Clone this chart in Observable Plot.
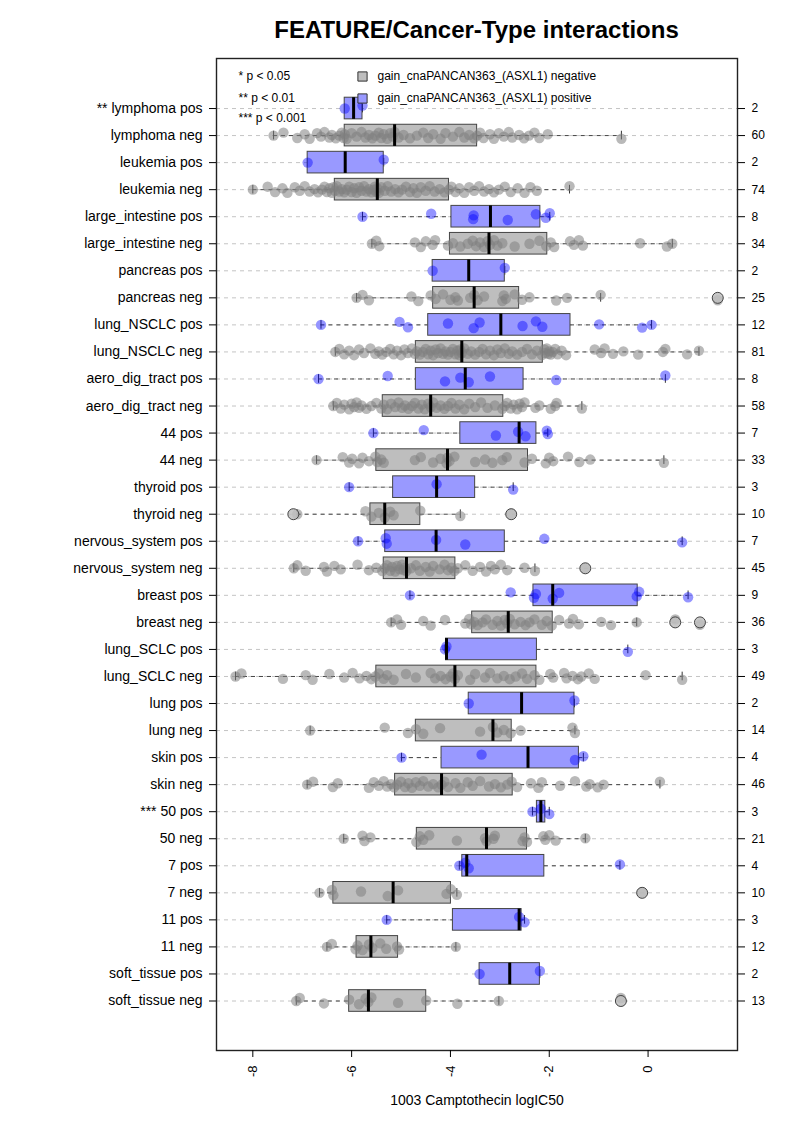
<!DOCTYPE html>
<html><head><meta charset="utf-8">
<script src="https://cdn.jsdelivr.net/npm/d3@7"></script>
<script src="https://cdn.jsdelivr.net/npm/@observablehq/plot@0.6"></script>
<style>
body{margin:0;background:#fff;font-family:"Liberation Sans",Arial,sans-serif;}
#title{height:50px;box-sizing:border-box;padding-top:16px;padding-left:216px;width:737px;text-align:center;font-weight:bold;font-size:24px;line-height:28px;color:#000;}
#chart svg{display:block;}
</style></head>
<body>
<div id="title">FEATURE/Cancer-Type interactions</div>
<div id="chart"></div>
<script>
const labels = ["** lymphoma pos","lymphoma neg","leukemia pos","leukemia neg","large_intestine pos","large_intestine neg","pancreas pos","pancreas neg","lung_NSCLC pos","lung_NSCLC neg","aero_dig_tract pos","aero_dig_tract neg","44 pos","44 neg","thyroid pos","thyroid neg","nervous_system pos","nervous_system neg","breast pos","breast neg","lung_SCLC pos","lung_SCLC neg","lung pos","lung neg","skin pos","skin neg","*** 50 pos","50 neg","7 pos","7 neg","11 pos","11 neg","soft_tissue pos","soft_tissue neg"];
const counts = [2,60,2,74,8,34,2,25,12,81,8,58,7,33,3,10,7,45,9,36,3,49,2,14,4,46,3,21,4,10,3,12,2,13];
const q1  = [-6.14,-6.14,-6.89,-6.34,-3.98,-4.01,-4.36,-4.35,-4.45,-4.70,-4.70,-5.37,-3.80,-5.50,-5.16,-5.62,-5.32,-5.35,-2.32,-3.56,-4.09,-5.50,-3.63,-4.70,-4.18,-5.12,-2.25,-4.68,-3.76,-6.37,-3.95,-5.90,-3.41,-6.05];
const med = [-5.96,-5.13,-6.13,-5.48,-3.19,-3.22,-3.63,-3.52,-2.98,-3.77,-3.70,-4.40,-2.61,-4.06,-4.28,-5.33,-4.29,-4.89,-1.93,-2.83,-4.08,-3.91,-2.56,-3.14,-2.43,-4.18,-2.17,-3.27,-3.67,-5.16,-2.61,-5.61,-2.80,-5.66];
const q3  = [-5.78,-3.46,-5.35,-4.03,-2.18,-2.04,-2.90,-2.61,-1.57,-2.13,-2.52,-2.93,-2.26,-2.43,-3.50,-4.61,-2.90,-3.90,-0.21,-1.93,-2.25,-2.26,-1.49,-2.76,-1.40,-2.74,-2.08,-2.45,-2.10,-3.99,-2.56,-5.06,-2.19,-4.49];
const wlo = [-6.14,-7.58,-6.89,-8.00,-5.78,-5.59,-4.36,-5.90,-6.62,-6.33,-6.67,-6.37,-5.56,-6.71,-6.05,-7.10,-5.87,-7.17,-4.82,-5.20,-4.11,-8.35,-3.63,-6.84,-4.99,-6.90,-2.34,-6.16,-3.82,-6.65,-5.29,-6.50,-3.41,-7.12];
const whi = [-5.78,-0.54,-5.35,-1.59,-1.99,0.49,-2.90,-0.96,0.07,1.03,0.35,-1.34,-2.03,0.32,-2.73,-3.80,0.69,-2.29,0.81,-0.23,-0.41,0.69,-1.49,-1.48,-1.31,0.24,-2.00,-1.27,-0.57,-3.87,-2.50,-3.89,-2.19,-3.02];
const outliers = [[],[],[],[],[],[],[],[1.41],[],[],[],[],[],[],[],[-7.18,-2.77],[],[-1.27],[],[0.55,1.05],[],[],[],[],[],[],[],[],[],[-0.12],[],[],[],[-0.55]];
const values = [
 [-6.14,-5.78],
 [-7.58,-7.38,-7.10,-6.95,-6.85,-6.70,-6.62,-6.55,-6.45,-6.40,-6.32,-6.25,-6.20,-6.16,-6.14,
  -6.10,-6.00,-5.90,-5.80,-5.72,-5.65,-5.58,-5.52,-5.45,-5.40,-5.35,-5.28,-5.22,-5.17,-5.13,
  -5.05,-4.95,-4.82,-4.68,-4.55,-4.45,-4.35,-4.20,-4.10,-3.95,-3.82,-3.72,-3.62,-3.52,-3.46,
  -3.40,-3.33,-3.20,-3.12,-3.02,-2.92,-2.82,-2.75,-2.61,-2.51,-2.41,-2.30,-2.20,-2.03,-0.54],
 [-6.89,-5.35],
 [-8.00,-7.70,-7.55,-7.40,-7.30,-7.15,-7.05,-6.95,-6.85,-6.75,-6.68,-6.60,-6.55,-6.50,-6.45,-6.40,-6.37,-6.34,
  -6.30,-6.25,-6.20,-6.15,-6.10,-6.05,-6.00,-5.95,-5.90,-5.85,-5.80,-5.75,-5.70,-5.65,-5.60,-5.56,-5.53,-5.50,-5.48,
  -5.45,-5.40,-5.33,-5.27,-5.20,-5.12,-5.05,-4.98,-4.90,-4.82,-4.75,-4.68,-4.60,-4.50,-4.42,-4.32,-4.22,-4.12,-4.03,
  -3.98,-3.90,-3.82,-3.72,-3.62,-3.52,-3.42,-3.32,-3.22,-3.12,-3.02,-2.90,-2.78,-2.64,-2.50,-2.38,-2.25,-1.59],
 [-5.78,-4.39,-3.54,-3.53,-2.84,-2.27,-2.07,-1.99],
 [-5.59,-5.50,-5.44,-4.72,-4.60,-4.50,-4.36,-4.31,-4.05,-3.95,-3.80,-3.65,-3.55,-3.48,-3.40,-3.32,-3.25,
  -3.20,-3.12,-3.05,-2.95,-2.70,-2.40,-2.20,-2.06,-1.97,-1.90,-1.58,-1.50,-1.40,-1.32,-0.16,0.38,0.49],
 [-4.36,-2.90],
 [-5.90,-5.78,-5.65,-4.79,-4.65,-4.40,-4.30,-4.15,-4.00,-3.90,-3.85,-3.60,-3.52,
  -3.45,-3.32,-2.95,-2.92,-2.88,-2.70,-2.55,-2.40,-1.86,-1.64,-0.96,1.41],
 [-6.62,-5.03,-4.86,-4.05,-3.53,-3.41,-2.54,-2.27,-2.14,-0.99,-0.12,0.07],
 [-6.33,-6.25,-6.15,-6.05,-5.95,-5.85,-5.75,-5.62,-5.52,-5.45,-5.38,-5.30,-5.22,-5.15,-5.08,-5.00,-4.93,-4.86,-4.78,-4.72,
  -4.68,-4.62,-4.56,-4.50,-4.45,-4.40,-4.35,-4.30,-4.25,-4.20,-4.15,-4.10,-4.05,-4.00,-3.95,-3.90,-3.86,-3.82,-3.80,-3.77,
  -3.72,-3.65,-3.58,-3.50,-3.42,-3.35,-3.28,-3.20,-3.12,-3.05,-2.98,-2.90,-2.82,-2.75,-2.65,-2.55,-2.45,-2.35,-2.25,-2.15,
  -2.10,-2.08,-2.05,-2.02,-2.00,-1.97,-1.93,-1.88,-1.83,-1.75,-1.66,-1.08,-0.95,-0.88,-0.71,-0.50,-0.20,0.30,0.35,0.79,1.03],
 [-6.67,-5.27,-4.11,-3.80,-3.63,-3.20,-1.86,0.35],
 [-6.37,-6.30,-6.22,-6.15,-6.05,-6.00,-5.95,-5.90,-5.85,-5.80,-5.70,-5.60,-5.50,-5.40,
  -5.35,-5.28,-5.20,-5.12,-5.05,-4.98,-4.92,-4.85,-4.78,-4.72,-4.65,-4.58,-4.52,-4.45,-4.40,
  -4.35,-4.28,-4.20,-4.12,-4.05,-3.98,-3.90,-3.82,-3.72,-3.62,-3.50,-3.38,-3.25,-3.10,-2.95,
  -2.90,-2.85,-2.78,-2.72,-2.65,-2.60,-2.55,-2.50,-2.28,-2.20,-1.97,-1.88,-1.85,-1.34],
 [-5.56,-4.54,-3.08,-2.63,-2.48,-2.05,-2.03],
 [-6.71,-6.18,-6.05,-5.99,-5.85,-5.78,-5.65,-5.52,-5.48,-5.40,-5.35,-4.72,-4.60,-4.35,-4.20,-4.08,-4.06,
  -4.02,-3.92,-3.50,-3.30,-3.15,-2.95,-2.86,-2.50,-2.35,-2.07,-2.00,-1.92,-1.62,-1.39,-1.17,0.32],
 [-6.05,-4.28,-2.73],
 [-7.10,-5.72,-5.60,-5.45,-5.33,-5.22,-5.15,-4.61,-3.80,-2.77],
 [-5.87,-5.31,-5.29,-4.29,-3.70,-2.10,0.69],
 [-7.17,-7.10,-6.93,-6.56,-6.50,-6.35,-6.22,-5.88,-5.65,-5.50,-5.38,
  -5.33,-5.28,-5.22,-5.18,-5.12,-5.08,-5.03,-4.98,-4.95,-4.92,-4.89,
  -4.80,-4.70,-4.62,-4.50,-4.42,-4.35,-4.22,-4.12,-4.05,-3.98,-3.92,
  -3.85,-3.70,-3.55,-3.40,-3.28,-3.18,-3.10,-2.98,-2.85,-2.50,-2.29,-1.27],
 [-4.82,-2.78,-2.31,-2.27,-1.93,-1.80,-0.23,-0.18,0.81],
 [-5.20,-5.08,-5.00,-4.55,-4.40,-4.11,-3.70,-3.62,-3.58,-3.52,-3.45,-3.35,-3.28,-3.15,-3.05,-2.98,-2.90,-2.85,
  -2.80,-2.70,-2.58,-2.48,-2.40,-2.30,-2.15,-2.05,-1.95,-1.80,-1.60,-1.52,-1.40,-0.95,-0.75,-0.23,0.55,1.05],
 [-4.11,-4.08,-0.41],
 [-8.35,-8.23,-7.39,-6.93,-6.79,-6.45,-6.15,-5.98,-5.84,-5.70,-5.60,-5.52,
  -5.45,-5.35,-5.28,-5.15,-4.90,-4.70,-4.40,-4.31,-4.20,-4.10,-4.00,-3.95,-3.91,
  -3.85,-3.60,-3.50,-3.30,-3.20,-3.05,-2.92,-2.80,-2.68,-2.55,-2.45,-2.30,
  -2.20,-1.98,-1.92,-1.70,-1.65,-1.53,-1.42,-1.35,-1.20,-1.08,-0.05,0.69],
 [-3.63,-1.49],
 [-6.84,-5.33,-4.86,-4.70,-4.55,-4.21,-3.40,-3.14,-3.05,-2.92,-2.78,-2.58,-1.53,-1.48],
 [-4.99,-3.37,-1.48,-1.31],
 [-6.90,-6.78,-6.38,-6.28,-5.65,-5.55,-5.45,-5.35,-5.28,-5.20,-5.14,
  -5.08,-5.00,-4.92,-4.85,-4.78,-4.70,-4.62,-4.55,-4.45,-4.35,-4.25,-4.18,
  -4.12,-4.05,-3.90,-3.80,-3.65,-3.55,-3.40,-3.22,-3.10,-2.98,-2.85,-2.76,
  -2.65,-2.37,-2.22,-2.15,-1.78,-1.48,-1.25,-1.18,-1.02,-0.90,0.24],
 [-2.34,-2.17,-2.00],
 [-6.16,-5.78,-5.74,-5.62,-4.69,-4.62,-4.55,-4.43,-3.87,-3.30,-3.27,-3.13,-3.10,-2.54,-2.50,-2.45,-2.12,-2.08,-2.00,-1.87,-1.27],
 [-3.82,-3.70,-3.63,-0.57],
 [-6.65,-6.40,-6.37,-5.81,-5.27,-5.06,-4.08,-3.99,-3.87,-0.12],
 [-5.29,-2.61,-2.50],
 [-6.50,-6.40,-5.92,-5.88,-5.78,-5.65,-5.58,-5.42,-5.30,-5.08,-5.04,-3.89],
 [-3.41,-2.19],
 [-7.12,-7.05,-6.56,-6.05,-5.85,-5.72,-5.66,-5.60,-5.06,-4.49,-3.86,-3.02,-0.55]
];
const xTicks = [-8,-6,-4,-2,0];
const pLegend = ["* p < 0.05","** p < 0.01","*** p < 0.001"];
const groupLegend = ["gain_cnaPANCAN363_(ASXL1) negative","gain_cnaPANCAN363_(ASXL1) positive"];
const xLabel = "1003 Camptothecin logIC50";

const rows = labels.map((label,i)=>({i,label,n:counts[i],q1:q1[i],med:med[i],q3:q3[i],lo:wlo[i],hi:whi[i],pos:/pos$/.test(label)}));
const dots = values.flatMap((arr,i)=>arr.map((v,j)=>({i,v,j,pos:rows[i].pos})));
const outs = outliers.flatMap((arr,i)=>arr.map(v=>({i,v})));
const jit = [0,-0.11,0.09,-0.05,0.12,-0.09,0.04,-0.13,0.07,-0.02,0.1];
const rowIdx = rows.map(r=>r.i);

const grayBox="#bebebe", blueBox="#9999ff";
const legendRowDy = [18, 40, 60];
const legendFill = [grayBox, blueBox];

const legendMarks = [
  ...pLegend.map((t,k)=>Plot.text([t], {text: d=>d, frameAnchor: "top-left", dx: 22, dy: legendRowDy[k], textAnchor: "start", lineAnchor: "middle", fontSize: 12})),
  ...groupLegend.map((t,k)=>Plot.dot([t], {frameAnchor: "top-left", dx: 146, dy: legendRowDy[k], symbol: "square", r: 5.2, fill: legendFill[k], stroke: "#333", strokeWidth: 1})),
  ...groupLegend.map((t,k)=>Plot.text([t], {text: d=>d, frameAnchor: "top-left", dx: 161, dy: legendRowDy[k], textAnchor: "start", lineAnchor: "middle", fontSize: 12}))
];

const chart = Plot.plot({
  width: 793, height: 1072,
  marginLeft: 216, marginRight: 56, marginTop: 8, marginBottom: 72,
  style: {fontFamily: '"Liberation Sans", Arial, sans-serif', fontSize: "14px", color: "#000", background: "#fff"},
  x: {domain: [-8.735, 1.81]},
  y: {domain: [34.83, -1.85]},
  marks: [
    Plot.ruleY(rows, {y: "i", stroke: "#c4c4c4", strokeDasharray: "4,4"}),
    Plot.ruleY(rows, {y: "i", x1: "lo", x2: "q1", stroke: "#444", strokeDasharray: "4,4"}),
    Plot.ruleY(rows, {y: "i", x1: "q3", x2: "hi", stroke: "#444", strokeDasharray: "4,4"}),
    Plot.ruleX(rows, {x: "lo", y1: d=>d.i-0.16, y2: d=>d.i+0.16, stroke: "#333"}),
    Plot.ruleX(rows, {x: "hi", y1: d=>d.i-0.16, y2: d=>d.i+0.16, stroke: "#333"}),
    Plot.rect(rows, {x1: "q1", x2: "q3", y1: d=>d.i-0.4, y2: d=>d.i+0.4, fill: d=>d.pos?blueBox:grayBox, stroke: "#444", strokeWidth: 1}),
    Plot.dot(dots.filter(d=>!d.pos), {x: "v", y: d=>d.i+jit[d.j%jit.length], r: 5.2, fill: "#808080", fillOpacity: 0.55, stroke: "none"}),
    Plot.dot(dots.filter(d=>d.pos), {x: "v", y: d=>d.i+jit[d.j%jit.length], r: 5.2, fill: "#0000ff", fillOpacity: 0.42, stroke: "none"}),
    Plot.dot(outs, {x: "v", y: "i", r: 5.5, fill: grayBox, fillOpacity: 0.85, stroke: "#444", strokeWidth: 1}),
    Plot.ruleX(rows, {x: "med", y1: d=>d.i-0.4, y2: d=>d.i+0.4, stroke: "#000", strokeWidth: 3}),
    Plot.frame({stroke: "#222", strokeWidth: 1.4}),
    Plot.axisY({ticks: rowIdx, tickFormat: i=>labels[i], tickSize: 7, tickPadding: 7, label: null, fontSize: 14}),
    Plot.axisY({anchor: "right", ticks: rowIdx, tickFormat: i=>String(counts[i]), tickSize: 7, tickPadding: 7, label: null, fontSize: 12}),
    Plot.axisX({ticks: xTicks, tickFormat: d=>String(d), tickRotate: -90, tickSize: 7, tickPadding: 8, label: null, fontSize: 13}),
    Plot.text([xLabel], {text: d=>d, frameAnchor: "bottom", dy: 50, lineAnchor: "middle", fontSize: 14}),
    ...legendMarks
  ]
});
document.getElementById("chart").appendChild(chart);
</script>
</body></html>
